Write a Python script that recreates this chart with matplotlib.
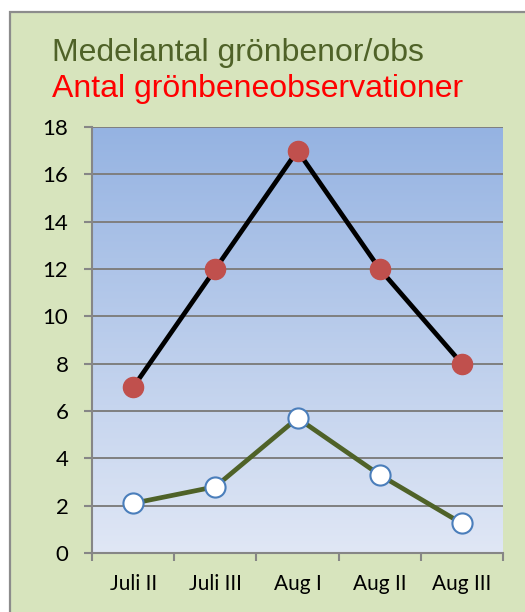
import numpy as np
import matplotlib
matplotlib.use('Agg')
import matplotlib.pyplot as plt
from matplotlib.patches import Rectangle

categories = ['Juli II', 'Juli III', 'Aug I', 'Aug II', 'Aug III']
antal_obs = [7, 12, 17, 12, 8]
medel_benor = [2.1, 2.8, 5.7, 3.3, 1.25]
yticks = [0, 2, 4, 6, 8, 10, 12, 14, 16, 18]

W, H = 525, 612
fig = plt.figure(figsize=(W / 100, H / 100), dpi=100)
fig.patch.set_facecolor('white')

# green chart panel, cut off at right and bottom
panel = Rectangle((10 / W, -0.05), 1.1, 1 - 12 / H + 0.05, transform=fig.transFigure,
                  facecolor='#d7e4bd', edgecolor='#8c8c8c', linewidth=1.6, zorder=0)
fig.add_artist(panel)

fig.text(52 / W, 1 - 53 / H, 'Medelantal grönbenor/obs', color='#4f6228',
         fontsize=23, family='Liberation Sans', va='center', ha='left')
fig.text(52 / W, 1 - 89 / H, 'Antal grönbeneobservationer', color='#ff0000',
         fontsize=23, family='Liberation Sans', va='center', ha='left')

ax = fig.add_axes([92 / W, 59 / H, (503 - 92) / W, (553 - 127) / H])
ax.set_facecolor('none')

x = np.arange(len(categories))
ax.set_xlim(-0.5, len(categories) - 0.5)
ax.set_ylim(0, 18)

# blue gradient background
top = np.array([149, 179, 226]) / 255
bot = np.array([224, 231, 245]) / 255
t = np.linspace(0, 1, 256)[:, None]
grad = (top * (1 - t) + bot * t)[:, None, :]
ax.imshow(grad, extent=[-0.5, len(categories) - 0.5, 0, 18], aspect='auto',
          zorder=0, origin='upper')

for v in yticks[1:]:
    ax.axhline(v, color='#7f7f7f', lw=1.4, zorder=1)

ax.plot(x, antal_obs, color='black', lw=3.4, zorder=3, marker='o', markersize=14.5,
        markerfacecolor='#c0504d', markeredgecolor='#c0504d')
ax.plot(x, medel_benor, color='#4f6228', lw=3.4, zorder=3, marker='o', markersize=14.5,
        markerfacecolor='white', markeredgecolor='#4a7ebb', markeredgewidth=1.5)

for s in ['top', 'right']:
    ax.spines[s].set_visible(False)
for s in ['left', 'bottom']:
    ax.spines[s].set_color('#868686')
    ax.spines[s].set_linewidth(1.5)

ax.set_yticks(yticks)
ax.set_yticklabels([str(v) for v in yticks], family='Lato', fontsize=16)
ax.set_xticks(np.arange(len(categories) + 1) - 0.5)
ax.set_xticklabels([])
ax.set_xticks(x, minor=True)
ax.set_xticklabels(categories, minor=True, family='Lato', fontsize=15)
ax.tick_params(axis='y', length=6, width=1.5, color='#868686', pad=11)
ax.tick_params(axis='x', which='major', length=6, width=1.5, color='#868686')
ax.tick_params(axis='x', which='minor', length=0, pad=15)

fig.savefig('out.png', dpi=100)
